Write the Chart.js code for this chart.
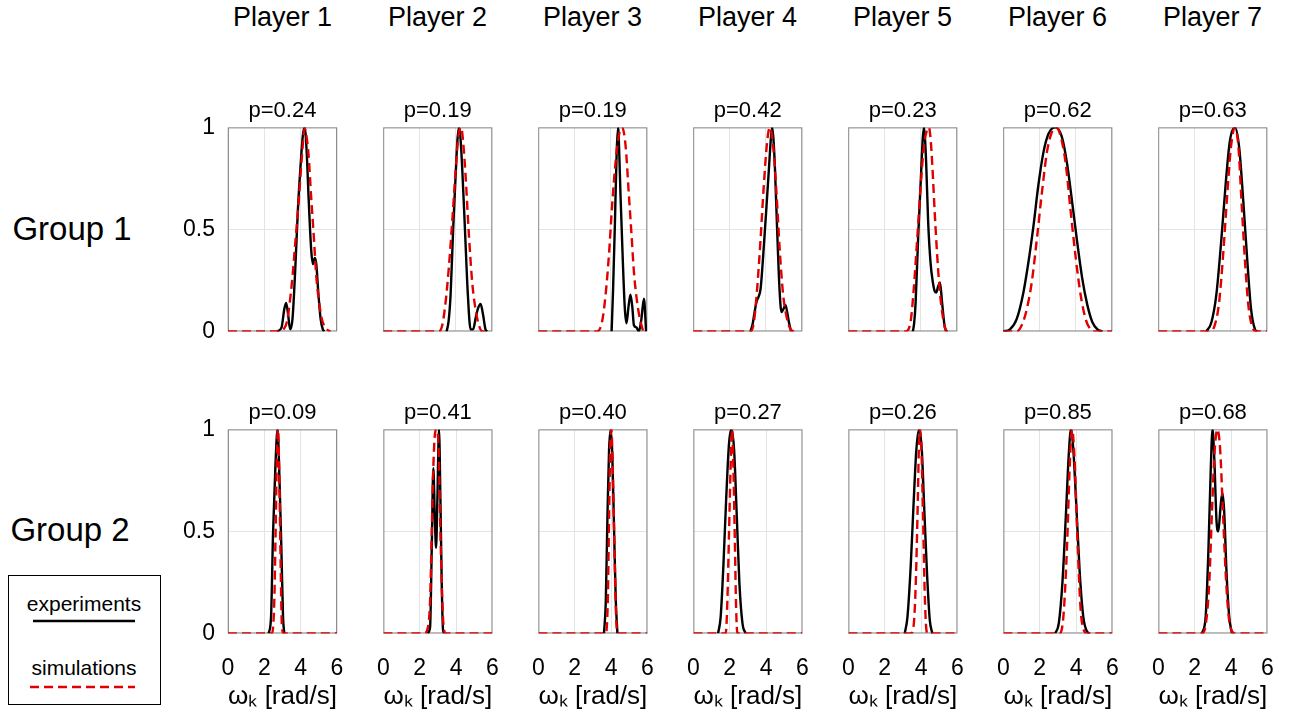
<!DOCTYPE html>
<html>
<head>
<meta charset="utf-8">
<script src="https://cdn.jsdelivr.net/npm/chart.js@4.4.1/dist/chart.umd.min.js"></script>
<style>
body { margin: 0; background: #fff; width: 1295px; height: 715px; overflow: hidden; position: relative;
       font-family: 'Liberation Sans', Arial, sans-serif; }
.lbl { position: absolute; color: #000; white-space: nowrap; line-height: 1; transform: translate(-50%, -50%); }
.panel { position: absolute; }
#legend { position: absolute; left: 8px; top: 575px; width: 153px; height: 130px; border: 1.5px solid #000; box-sizing: border-box; }
</style>
</head>
<body>
<div id="legend"></div>
<script>
// ---- data ----
const players = ['Player 1', 'Player 2', 'Player 3', 'Player 4', 'Player 5', 'Player 6', 'Player 7'];
const groups = ['Group 1', 'Group 2'];
const legendLabels = ['experiments', 'simulations'];
const xTicks = [0, 2, 4, 6];
const yTicks = [0, 0.5, 1];
const xTitle = 'ωₖ [rad/s]';

const group1P = [0.24, 0.19, 0.19, 0.42, 0.23, 0.62, 0.63];
const group2P = [0.09, 0.41, 0.40, 0.27, 0.26, 0.85, 0.68];

const group1Experiments = [
    [[2.7,0],[2.95,0.02],[3.1,0.11],[3.2,0.14],[3.3,0.09],[3.42,0.01],[3.55,0.06],[3.7,0.3],[3.85,0.6],[4.0,0.82],[4.12,0.96],[4.22,1],[4.32,0.9],[4.45,0.63],[4.58,0.4],[4.68,0.33],[4.78,0.36],[4.86,0.33],[4.98,0.18],[5.1,0.06],[5.22,0.01],[5.3,0]],
    [[3.49,0],[3.6,0.05],[3.71,0.18],[3.85,0.5],[3.98,0.75],[4.08,0.93],[4.17,1],[4.26,0.94],[4.35,0.8],[4.5,0.5],[4.66,0.18],[4.81,0.01],[4.95,0.01],[5.1,0.07],[5.21,0.11],[5.36,0.135],[5.5,0.08],[5.63,0.01],[5.72,0]],
    [[4.04,0],[4.12,0.2],[4.22,0.52],[4.32,0.88],[4.4,1],[4.47,0.85],[4.53,0.67],[4.66,0.34],[4.77,0.11],[4.86,0.04],[4.97,0.12],[5.08,0.18],[5.18,0.12],[5.27,0.03],[5.4,0.02],[5.54,0],[5.68,0.06],[5.82,0.16],[5.94,0]],
    [[3.16,0],[3.28,0.04],[3.38,0.095],[3.5,0.15],[3.6,0.17],[3.71,0.21],[3.89,0.42],[4.04,0.62],[4.17,0.8],[4.28,0.95],[4.35,1],[4.42,0.94],[4.5,0.8],[4.62,0.5],[4.75,0.21],[4.86,0.095],[4.97,0.11],[5.08,0.13],[5.18,0.09],[5.27,0.045],[5.39,0]],
    [[3.56,0],[3.63,0.04],[3.71,0.14],[3.85,0.46],[4.0,0.75],[4.1,0.94],[4.17,1],[4.23,0.94],[4.29,0.83],[4.4,0.54],[4.53,0.34],[4.66,0.24],[4.75,0.2],[4.84,0.19],[4.95,0.22],[5.05,0.24],[5.17,0.14],[5.3,0.03],[5.39,0]],
    [[0,0],[0.37,0.01],[0.74,0.06],[1.11,0.19],[1.39,0.34],[1.67,0.52],[1.94,0.72],[2.22,0.88],[2.5,0.97],[2.87,1],[3.24,0.95],[3.52,0.82],[3.8,0.63],[4.07,0.44],[4.35,0.26],[4.63,0.13],[4.91,0.045],[5.19,0.01],[5.46,0]],
    [[2.65,0],[2.93,0.045],[3.2,0.18],[3.48,0.455],[3.72,0.73],[3.94,0.93],[4.22,1],[4.46,0.9],[4.69,0.63],[4.91,0.34],[5.11,0.11],[5.33,0.01],[5.46,0]]
];

const group1Simulations = [
    [[0,0],[2.88,0],[3.05,0.01],[3.25,0.05],[3.52,0.24],[3.71,0.44],[3.89,0.635],[4.07,0.86],[4.22,0.995],[4.3,0.97],[4.44,0.86],[4.57,0.67],[4.72,0.47],[4.86,0.27],[4.99,0.16],[5.17,0.06],[5.45,0.01],[5.63,0]],
    [[0,0],[3.06,0],[3.25,0.03],[3.43,0.14],[3.61,0.31],[3.8,0.54],[3.98,0.78],[4.13,0.95],[4.29,1],[4.4,0.93],[4.53,0.77],[4.72,0.47],[4.9,0.24],[5.08,0.11],[5.27,0.03],[5.45,0],[5.6,0]],
    [[0,0],[3.25,0],[3.52,0.05],[3.71,0.18],[3.89,0.37],[4.07,0.62],[4.26,0.83],[4.44,0.96],[4.62,1],[4.81,0.91],[4.99,0.67],[5.14,0.47],[5.27,0.29],[5.45,0.14],[5.63,0.05],[5.82,0],[5.9,0]],
    [[0,0],[3.16,0],[3.34,0.045],[3.52,0.21],[3.71,0.455],[3.89,0.72],[4.07,0.93],[4.22,1],[4.4,0.91],[4.59,0.67],[4.77,0.39],[4.95,0.18],[5.17,0.06],[5.36,0.01],[5.54,0]],
    [[0,0],[3.16,0],[3.43,0.045],[3.61,0.21],[3.8,0.455],[3.98,0.7],[4.17,0.91],[4.35,0.99],[4.44,1],[4.53,0.95],[4.62,0.83],[4.77,0.57],[4.9,0.37],[5.03,0.21],[5.17,0.095],[5.36,0.01],[5.5,0]],
    [[0,0],[0.74,0],[1.02,0.03],[1.3,0.11],[1.57,0.24],[1.85,0.45],[2.13,0.68],[2.41,0.88],[2.69,0.98],[2.91,1],[3.15,0.96],[3.43,0.83],[3.7,0.6],[3.98,0.37],[4.26,0.18],[4.54,0.06],[4.81,0.01],[5.09,0],[6,0]],
    [[0,0],[2.83,0],[3.11,0.03],[3.35,0.14],[3.57,0.37],[3.8,0.67],[4.0,0.9],[4.22,1],[4.41,0.91],[4.59,0.63],[4.78,0.34],[4.96,0.13],[5.15,0.03],[5.43,0],[6,0]]
];

const group2Experiments = [
    [[2.24,0],[2.37,0.08],[2.48,0.49],[2.61,0.82],[2.73,1],[2.84,0.74],[2.94,0.41],[3.03,0.08],[3.1,0]],
    [[2.42,0],[2.57,0.03],[2.66,0.41],[2.75,0.81],[2.83,0.57],[2.9,0.42],[2.97,0.65],[3.06,1],[3.14,0.65],[3.21,0.25],[3.28,0.02],[3.34,0]],
    [[3.61,0],[3.71,0.16],[3.8,0.57],[3.89,0.9],[3.98,1],[4.07,0.87],[4.17,0.49],[4.26,0.16],[4.35,0]],
    [[1.36,0],[1.5,0.08],[1.65,0.33],[1.8,0.65],[1.96,0.93],[2.09,1],[2.24,0.9],[2.39,0.57],[2.53,0.25],[2.7,0.05],[2.88,0]],
    [[3.1,0],[3.25,0.08],[3.43,0.33],[3.58,0.62],[3.74,0.9],[3.89,1],[4.04,0.9],[4.18,0.6],[4.33,0.29],[4.48,0.065],[4.62,0]],
    [[2.85,0],[3.05,0.05],[3.25,0.25],[3.45,0.6],[3.6,0.88],[3.72,1],[3.85,0.9],[4.0,0.65],[4.2,0.3],[4.4,0.08],[4.6,0.01],[4.75,0]],
    [[2.4,0],[2.6,0.08],[2.75,0.4],[2.88,0.8],[2.98,1],[3.08,0.85],[3.2,0.55],[3.3,0.5],[3.42,0.62],[3.52,0.69],[3.62,0.6],[3.75,0.3],[3.9,0.08],[4.05,0]]
];

const group2Simulations = [
    [[0,0],[2.42,0],[2.55,0.16],[2.62,0.49],[2.7,0.9],[2.75,1],[2.83,0.74],[2.9,0.33],[2.97,0.03],[3.06,0],[6,0]],
    [[0,0],[2.24,0],[2.42,0.02],[2.57,0.16],[2.66,0.49],[2.75,0.82],[2.84,0.98],[2.92,1],[3.03,0.93],[3.12,0.57],[3.21,0.25],[3.3,0.05],[3.43,0],[6,0]],
    [[0,0],[3.71,0],[3.82,0.16],[3.89,0.57],[3.96,0.93],[4.02,1],[4.09,0.82],[4.17,0.49],[4.26,0.13],[4.35,0],[6,0]],
    [[0,0],[1.78,0],[1.87,0.16],[1.96,0.49],[2.06,0.85],[2.13,1],[2.2,0.82],[2.28,0.46],[2.35,0.13],[2.42,0],[6,0]],
    [[0,0],[3.43,0],[3.58,0.03],[3.71,0.25],[3.82,0.65],[3.89,0.95],[3.94,1],[4.02,0.9],[4.11,0.57],[4.2,0.2],[4.29,0.02],[4.37,0],[6,0]],
    [[0,0],[3.1,0],[3.3,0.08],[3.5,0.42],[3.65,0.82],[3.78,1],[3.92,0.85],[4.08,0.45],[4.25,0.12],[4.45,0.01],[4.6,0],[6,0]],
    [[0,0],[2.4,0],[2.6,0.04],[2.8,0.25],[2.95,0.6],[3.1,0.9],[3.25,1],[3.4,0.9],[3.55,0.6],[3.7,0.3],[3.85,0.1],[4.0,0.02],[4.2,0],[6,0]]
];

// ---- layout ----
const plotW = 109, plotH = 204;
const plotLeft0 = 228, colStep = 155;
const rowTops = [127, 429];
const expColor = '#000000';
const simColor = '#e00000';
const simDash = [9, 5];

Chart.defaults.font.family = "'Liberation Sans', Arial, sans-serif";

function addLabel(text, cx, cy, size) {
    const d = document.createElement('div');
    d.className = 'lbl';
    d.textContent = text;
    d.style.left = cx + 'px';
    d.style.top = cy + 'px';
    d.style.fontSize = size + 'px';
    document.body.appendChild(d);
}

players.forEach((p, i) => addLabel(p, plotLeft0 + colStep * i + plotW / 2, 17, 27));
addLabel(groups[0], 72, 228, 33);
addLabel(groups[1], 70, 529, 33);

// legend box
const legend = document.getElementById('legend');
legend.innerHTML =
    '<div class="lbl" style="left:75px;top:27px;font-size:21px;">' + legendLabels[0] + '</div>' +
    '<div class="lbl" style="left:75px;top:91px;font-size:21px;">' + legendLabels[1] + '</div>' +
    '<svg width="150" height="128" style="position:absolute;left:0;top:0">' +
    '<line x1="24" y1="45" x2="126" y2="45" stroke="' + expColor + '" stroke-width="2.4"/>' +
    '<line x1="21" y1="111" x2="126" y2="111" stroke="' + simColor + '" stroke-width="2.4" stroke-dasharray="9 5"/>' +
    '</svg>';

const framePlugin = {
    id: 'frame',
    beforeDatasetsDraw(chart) {
        const {ctx, chartArea: a} = chart;
        ctx.save();
        ctx.strokeStyle = '#8c8c8c';
        ctx.lineWidth = 1;
        ctx.strokeRect(a.left + 0.5, a.top + 0.5, a.right - a.left - 1, a.bottom - a.top - 1);
        ctx.restore();
    }
};

function fitPanel(chart, box, left, top) {
    for (let i = 0; i < 3; i++) {
        const a = chart.chartArea;
        box.style.width = (chart.width + plotW - (a.right - a.left)) + 'px';
        box.style.height = (chart.height + plotH - (a.bottom - a.top)) + 'px';
        chart.resize();
    }
    const a = chart.chartArea;
    box.style.left = (left - a.left) + 'px';
    box.style.top = (top - a.top) + 'px';
}

function makePanel(row, col, expData, simData, p) {
    const box = document.createElement('div');
    box.className = 'panel';
    box.style.width = (plotW + 90) + 'px';
    box.style.height = (plotH + (row ? 110 : 40)) + 'px';
    document.body.appendChild(box);
    const canvas = document.createElement('canvas');
    box.appendChild(canvas);

    const chart = new Chart(canvas, {
        type: 'line',
        data: {
            datasets: [{
                label: legendLabels[0],
                data: expData,
                borderColor: expColor,
                borderWidth: 2.4,
                order: 1
            }, {
                label: legendLabels[1],
                data: simData,
                borderColor: simColor,
                borderWidth: 2.4,
                borderDash: simDash,
                order: 0
            }]
        },
        options: {
            animation: false,
            responsive: true,
            maintainAspectRatio: false,
            events: [],
            elements: {
                point: { radius: 0 },
                line: { cubicInterpolationMode: 'monotone', fill: false, borderCapStyle: 'butt' }
            },
            layout: { padding: { left: 0, right: 12, top: 0, bottom: 0 } },
            plugins: {
                legend: { display: false },
                tooltip: { enabled: false },
                title: {
                    display: true,
                    text: 'p=' + p.toFixed(2),
                    fullSize: false,
                    color: '#000',
                    font: { size: 22, weight: 'normal' },
                    padding: { top: 0, bottom: 3 }
                }
            },
            scales: {
                x: {
                    type: 'linear',
                    min: 0,
                    max: 6,
                    afterBuildTicks: s => { s.ticks = xTicks.map(v => ({ value: v })); },
                    ticks: {
                        display: row === 1,
                        color: '#000',
                        font: { size: 23 },
                        padding: 21,
                        maxRotation: 0,
                        autoSkip: false,
                        callback: v => String(v)
                    },
                    grid: { color: '#e4e4e4', drawTicks: false },
                    border: { display: false },
                    title: {
                        display: row === 1,
                        text: xTitle,
                        color: '#000',
                        font: { size: 26 },
                        padding: { top: -22, bottom: 0 }
                    }
                },
                y: {
                    min: 0,
                    max: 1,
                    afterBuildTicks: s => { s.ticks = yTicks.map(v => ({ value: v })); },
                    ticks: {
                        display: col === 0,
                        color: '#000',
                        font: { size: 23 },
                        padding: 13,
                        callback: v => String(v)
                    },
                    grid: { color: '#e4e4e4', drawTicks: false },
                    border: { display: false }
                }
            }
        },
        plugins: [framePlugin]
    });

    fitPanel(chart, box, plotLeft0 + colStep * col, rowTops[row]);
}

for (let c = 0; c < players.length; c++) {
    makePanel(0, c, group1Experiments[c], group1Simulations[c], group1P[c]);
    makePanel(1, c, group2Experiments[c], group2Simulations[c], group2P[c]);
}
</script>
</body>
</html>
